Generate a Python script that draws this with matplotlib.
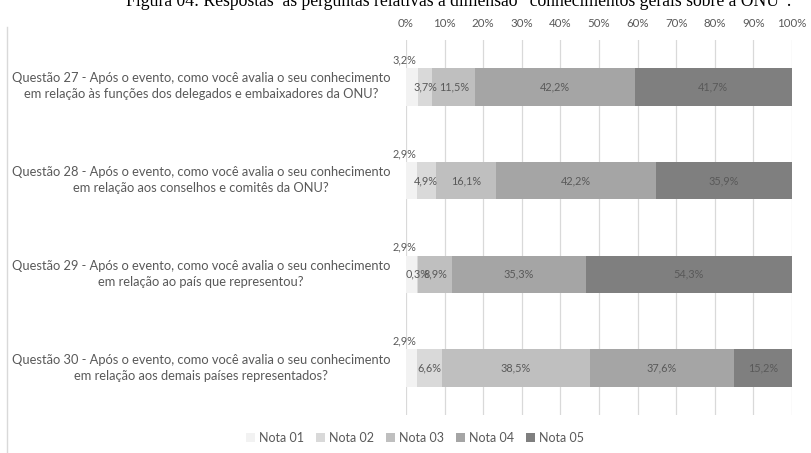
import matplotlib.pyplot as plt
import numpy as np
from matplotlib.patches import Patch
from matplotlib.lines import Line2D

# Dados (percentuais como aparecem nos rótulos)
perguntas = ['Questão 27 - Após o evento, como você avalia o seu conhecimento\nem relação às funções dos delegados e embaixadores da ONU?',
             'Questão 28 - Após o evento, como você avalia o seu conhecimento\nem relação aos conselhos e comitês da ONU?',
             'Questão 29 - Após o evento, como você avalia o seu conhecimento\nem relação ao país que representou?',
             'Questão 30 - Após o evento, como você avalia o seu conhecimento\nem relação aos demais países representados?']
notas = ['Nota 01', 'Nota 02', 'Nota 03', 'Nota 04', 'Nota 05']
nota01 = [3.2, 2.9, 2.9, 2.9]
nota02 = [3.7, 4.9, 0.3, 6.6]
nota03 = [11.5, 16.1, 8.9, 38.5]
nota04 = [42.2, 42.2, 35.3, 37.6]
nota05 = [41.7, 35.9, 54.3, 15.2]
cores = ['#f2f2f2', '#d9d9d9', '#bfbfbf', '#a5a5a5', '#7f7f7f']

valores = np.array([nota01, nota02, nota03, nota04, nota05])
# gráfico 100% empilhado
normal = valores / valores.sum(axis=0) * 100

cinza = '#595959'
plt.rcParams['font.family'] = ['Lato', 'DejaVu Sans']

fig = plt.figure(figsize=(8.11, 4.53), dpi=100)
ax = fig.add_axes([406 / 811, 1 - 415 / 453, 386 / 811, 375 / 453])

y = np.arange(len(perguntas))
base = np.zeros(len(perguntas))
for i in range(len(notas)):
    ax.barh(y, normal[i], left=base, height=0.4, color=cores[i], zorder=2)
    for j in range(len(perguntas)):
        txt = ('%.1f%%' % valores[i][j]).replace('.', ',')
        if i == 0:
            ax.text(-0.3, j - 0.2 - 0.03, txt, ha='center', va='bottom', fontsize=7.8, color=cinza, zorder=3)
        else:
            ax.text(base[j] + normal[i][j] / 2, j, txt, ha='center', va='center', fontsize=7.8, color=cinza, zorder=3)
    base = base + normal[i]

ax.set_xlim(0, 100)
ax.set_ylim(3.5, -0.5)
ax.set_xticks(np.arange(0, 101, 10))
ax.set_xticklabels(['%d%%' % t for t in range(0, 101, 10)])
ax.xaxis.tick_top()
ax.tick_params(axis='x', length=0, pad=8, labelsize=8.3, labelcolor=cinza)
ax.set_yticks([])
ax.grid(axis='x', color='#d9d9d9', linewidth=0.9, zorder=0)
for s in ax.spines.values():
    s.set_visible(False)

# rótulos das perguntas
for j, p in enumerate(perguntas):
    fig.text(201 / 811, 1 - (86 + 94 * j) / 453, p, ha='center', va='center', multialignment='center',
             fontsize=9.3, color=cinza, linespacing=1.35)

# legenda
handles = [Patch(facecolor=c, edgecolor='none') for c in cores]
fig.legend(handles, notas, loc='center', bbox_to_anchor=(415 / 811, 1 - 438 / 453), ncol=5, frameon=False,
           fontsize=9, labelcolor=cinza, handlelength=0.7, handleheight=0.7, handletextpad=0.3, columnspacing=1.0)

# borda esquerda do gráfico
fig.add_artist(Line2D([7 / 811, 7 / 811], [0, 1 - 27 / 453], color='#d9d9d9', linewidth=1))

# título (cortado no topo)
fig.text(459 / 811, 1 - 6 / 453,
         'Figura 04: Respostas  às perguntas relativas à dimensão “conhecimentos gerais sobre a ONU”.',
         ha='center', va='baseline', fontsize=12.7, family='Liberation Serif', color='black')

fig.savefig('out.png', dpi=100)
